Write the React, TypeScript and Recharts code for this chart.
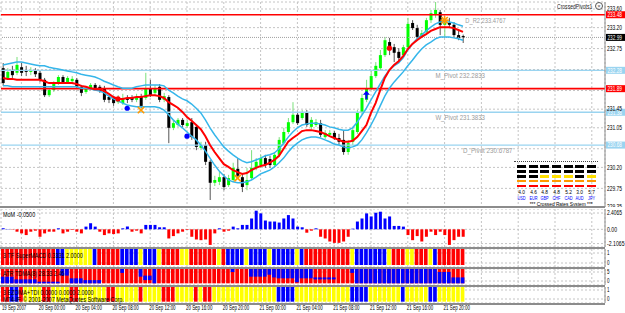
import React from "react";
import {
  ComposedChart, Bar, Line, Scatter, XAxis, YAxis, CartesianGrid, ReferenceLine, ReferenceDot, Cell,
} from "recharts";

const FONT = "'Liberation Sans',Arial,sans-serif";

// M30 candles, 19 Sep 20:00 .. 21 Sep 22:00
const OPEN = [
  232.33, 232.12, 232.29, 232.23, 232.35, 232.29, 232.25, 232.27, 232.23, 232.08,
  231.75, 231.86, 232.01, 232.14, 232.03, 232.05, 232.08, 231.93, 231.82, 231.90,
  231.97, 231.93, 231.90, 231.71, 231.69, 231.60, 231.58, 231.69, 231.69, 231.65,
  231.71, 231.69, 231.90, 231.80, 231.93, 231.65, 231.71, 231.05, 231.11, 231.22,
  231.09, 231.17, 231.07, 230.62, 230.68, 230.32, 229.87, 229.89, 229.99, 229.82,
  229.93, 230.17, 229.99, 229.82, 229.97, 230.19, 230.25, 230.40, 230.38, 230.25,
  230.47, 230.72, 230.96, 231.17, 231.33, 231.26, 231.37, 231.07, 231.11, 231.15,
  230.85, 230.90, 230.94, 230.83, 230.79, 230.53, 230.75, 230.96, 231.37, 231.65,
  231.90, 232.16, 232.33, 232.61, 232.89, 232.78, 232.68, 232.61, 232.78, 233.30,
  233.19, 233.00, 233.11, 233.36, 233.47, 233.53, 233.26, 233.30, 233.26, 233.04,
  233.02,
];
const HIGH = [
  232.44, 232.33, 232.38, 232.57, 232.44, 232.38, 232.35, 232.33, 232.29, 232.12,
  231.90, 232.05, 232.18, 232.18, 232.16, 232.16, 232.12, 231.97, 231.95, 232.01,
  232.01, 231.97, 231.95, 231.75, 231.73, 231.75, 231.78, 231.75, 231.75, 231.78,
  231.78, 232.23, 232.08, 231.97, 231.99, 231.80, 231.75, 231.22, 231.26, 231.26,
  231.22, 231.26, 231.13, 230.75, 230.75, 230.36, 230.02, 230.10, 230.06, 230.04,
  230.30, 230.40, 230.06, 230.19, 230.57, 230.40, 230.47, 230.47, 230.45, 230.53,
  230.85, 231.05, 231.26, 231.60, 231.39, 231.43, 231.43, 231.28, 231.24, 231.22,
  231.00, 231.00, 230.98, 230.92, 231.00, 230.79, 231.07, 231.43, 231.78, 232.08,
  232.29, 232.46, 232.72, 233.00, 232.98, 232.85, 232.76, 232.83, 233.41, 233.36,
  233.26, 233.15, 233.41, 233.58, 233.75, 233.58, 233.36, 233.41, 233.32, 233.15,
  233.05,
];
const LOW = [
  231.95, 232.08, 232.12, 232.18, 232.16, 232.16, 232.18, 232.14, 232.03, 231.71,
  231.71, 231.82, 231.97, 231.99, 231.99, 232.01, 231.88, 231.73, 231.78, 231.86,
  231.86, 231.80, 231.60, 231.58, 231.52, 231.56, 231.54, 231.58, 231.60, 231.60,
  231.47, 231.65, 231.71, 231.75, 231.60, 231.60, 230.72, 231.00, 231.07, 231.05,
  231.05, 230.79, 230.57, 230.57, 230.25, 229.50, 229.80, 229.82, 229.71, 229.78,
  229.89, 229.97, 229.67, 229.71, 229.93, 230.14, 230.19, 230.19, 230.19, 230.21,
  230.42, 230.68, 230.92, 231.13, 231.11, 231.22, 231.07, 231.02, 231.07, 230.85,
  230.81, 230.85, 230.79, 230.68, 230.47, 230.47, 230.68, 230.92, 231.33, 231.60,
  231.86, 232.12, 232.29, 232.57, 232.61, 232.46, 232.44, 232.55, 232.72, 233.15,
  232.93, 232.98, 233.04, 233.30, 233.41, 233.04, 233.00, 233.19, 232.98, 232.93,
  232.87,
];
const CLOSE = [
  232.01, 232.25, 232.18, 232.40, 232.23, 232.25, 232.29, 232.20, 232.08, 231.75,
  231.86, 232.01, 232.14, 232.03, 232.12, 232.10, 231.93, 231.80, 231.90, 231.97,
  231.90, 231.84, 231.65, 231.65, 231.58, 231.67, 231.69, 231.65, 231.65, 231.71,
  231.52, 231.90, 231.75, 231.90, 231.65, 231.73, 231.05, 231.15, 231.22, 231.11,
  231.15, 230.85, 230.64, 230.68, 230.32, 229.87, 229.93, 229.99, 229.78, 229.97,
  230.19, 230.02, 229.78, 229.93, 230.19, 230.32, 230.40, 230.25, 230.25, 230.47,
  230.79, 230.96, 231.17, 231.33, 231.15, 231.37, 231.11, 231.22, 231.17, 230.90,
  230.94, 230.94, 230.83, 230.75, 230.53, 230.72, 231.00, 231.37, 231.69, 231.90,
  232.16, 232.38, 232.61, 232.93, 232.72, 232.66, 232.55, 232.78, 233.28, 233.19,
  233.00, 233.08, 233.36, 233.51, 233.58, 233.26, 233.30, 233.26, 233.04, 232.98,
  232.99,
];

const MA_RED = [
  232.12, 232.10, 232.10, 232.08, 232.08, 232.08, 232.08, 232.08, 232.08, 232.05,
  232.01, 232.01, 232.01, 232.01, 232.01, 232.01, 231.99, 231.95, 231.93, 231.90,
  231.88, 231.88, 231.84, 231.78, 231.71, 231.67, 231.67, 231.69, 231.69, 231.71,
  231.71, 231.73, 231.75, 231.75, 231.73, 231.69, 231.60, 231.54, 231.48, 231.39,
  231.28, 231.20, 231.11, 231.02, 230.87, 230.68, 230.53, 230.40, 230.27, 230.21,
  230.14, 230.10, 230.06, 230.08, 230.14, 230.19, 230.23, 230.25, 230.30, 230.36,
  230.45, 230.60, 230.75, 230.83, 230.90, 230.98, 231.00, 231.00, 230.98, 230.96,
  230.92, 230.87, 230.83, 230.79, 230.75, 230.75, 230.77, 230.85, 230.98, 231.11,
  231.37, 231.58, 231.86, 232.12, 232.29, 232.40, 232.48, 232.59, 232.74, 232.85,
  232.93, 233.00, 233.06, 233.13, 233.17, 233.21, 233.21, 233.21, 233.19, 233.15,
  233.11,
];
const BAND_UP = [
  232.40, 232.42, 232.44, 232.46, 232.46, 232.44, 232.42, 232.40, 232.38, 232.38,
  232.35, 232.33, 232.31, 232.29, 232.27, 232.25, 232.23, 232.20, 232.18, 232.16,
  232.14, 232.10, 232.05, 232.01, 231.97, 231.93, 231.90, 231.90, 231.90, 231.93,
  231.95, 231.97, 231.97, 231.97, 231.97, 231.95, 231.86, 231.80, 231.73, 231.67,
  231.63, 231.56, 231.47, 231.37, 231.22, 231.05, 230.90, 230.77, 230.64, 230.55,
  230.47, 230.40, 230.34, 230.30, 230.32, 230.36, 230.40, 230.45, 230.47, 230.51,
  230.60, 230.72, 230.85, 230.96, 231.05, 231.11, 231.13, 231.15, 231.15, 231.13,
  231.11, 231.07, 231.05, 231.02, 231.00, 231.00, 231.05, 231.17, 231.32, 231.47,
  231.65, 231.82, 231.99, 232.16, 232.29, 232.38, 232.44, 232.55, 232.72, 232.85,
  232.96, 233.04, 233.13, 233.21, 233.28, 233.32, 233.32, 233.32, 233.30, 233.26,
  233.23,
];
const BAND_DN = [
  231.95, 231.95, 231.93, 231.93, 231.93, 231.93, 231.93, 231.93, 231.93, 231.93,
  231.93, 231.93, 231.93, 231.93, 231.93, 231.93, 231.93, 231.90, 231.90, 231.88,
  231.86, 231.84, 231.80, 231.73, 231.67, 231.63, 231.58, 231.54, 231.52, 231.50,
  231.50, 231.50, 231.50, 231.50, 231.48, 231.43, 231.33, 231.22, 231.13, 231.05,
  230.96, 230.87, 230.79, 230.68, 230.55, 230.40, 230.25, 230.12, 230.02, 229.93,
  229.89, 229.87, 229.87, 229.89, 229.93, 229.99, 230.06, 230.10, 230.14, 230.21,
  230.30, 230.40, 230.53, 230.64, 230.72, 230.79, 230.83, 230.85, 230.85, 230.83,
  230.79, 230.75, 230.70, 230.68, 230.64, 230.62, 230.64, 230.68, 230.79, 230.94,
  231.11, 231.30, 231.52, 231.73, 231.90, 232.03, 232.14, 232.25, 232.38, 232.50,
  232.63, 232.74, 232.83, 232.89, 232.96, 233.00, 233.00, 233.00, 232.98, 232.96,
  232.93,
];

const MOM = [
  0.15, 0.05, -0.05, -0.35, -0.6, -0.85, -0.35, -0.2, -1.1, -0.6,
  -0.35, -0.35, 0.15, -0.6, -0.35, -0.1, -0.35, -0.6, 0.4, 0.9,
  0.4, -0.35, -0.85, -0.6, -0.7, -0.6, 0.15, 0.4, -0.35, -0.2,
  -0.6, 0.65, 0.65, 0.65, 0.3, 0.3, -1.35, -1.0, -0.6, -0.35,
  -0.1, -1.1, -1.5, -1.6, -1.5, -2.3, -0.6, 0.15, -0.35, -0.2,
  0.4, 0.15, 0.65, 0.65, 1.6, 2.75, 2.35, 1.3, 1.15, 1.15,
  1.0, 1.6, 2.1, 1.6, 0.4, 0.3, -0.5, -0.2, 0.15, -1.1,
  -1.35, -1.8, -2.0, -2.0, -1.8, -1.1, 0.1, 1.15, 1.6, 2.35,
  1.9, 2.45, 2.6, 1.6, 1.9, 0.5, 0.5, 0.4, -0.85, -1.6,
  -1.0, -1.8, -1.1, -0.35, -0.85, -0.35, -0.85, -2.3, -1.6, -1.1,
  -1.1,
];

// R = red, Y = yellow, B = blue
const MACD_STATE = [
  "RRRRRRRRRRRR", "BB", "YYYYYY", "B", "RRRRR", "BBBB", "Y", "BBB", "Y", "RRRR", "YY",
  "RRRRRR", "Y", "R", "BBBB", "Y", "BBBB", "Y", "BBBBB", "Y", "B", "RRRRRRRRRR", "Y",
  "BBBBBBB", "Y", "RRR", "YY", "RRR", "Y", "B", "RRRRRR",
].join("");
const EZOMA_STATE = [
  "RR", "BB", "R", "YYYY", "RR", "YYYY", "RR", "YYYYYY", "RR", "YYYYY", "R", "YYYY",
  "RRR", "YYYY", "R", "Y", "RR", "YYYYYYYYYYYYYY", "BBBB", "YYYYYYYYYYYY", "BBBB",
  "YYYYYYY", "B", "YYYYY", "BB", "YYYYYY",
].join("");

// blue part of the ATR column [from, to]; the rest of the column is red
const ATR_BLUE: ([number, number] | null)[] = [
  [-1.3, 2.4], [-1.3, 2.4], [-1.3, 2.4], [-1.3, 0.9], [-1.3, 0.9], [-1.3, 0.9], [-1.3, 0.9], [-1.3, 0.9],
  [-1.3, -0.4], [-1.3, -0.4], [-1.3, -0.4], [-1.3, -0.4], [-1.3, -0.4], [3, 6.67], [3, 6.67],
  [-1.3, 1.5], [-1.3, 1.5], [-1.3, 1.5], [-1.3, 0.5], [-1.3, 0.5], [-1.3, 0.5], [-1.3, 0.5],
  null, null, null, null, [4.5, 6.67], null, null, null, [2.4, 6.67], [0.5, 3], [0.5, 3], [-1.3, 6.67],
  null, null, null, null, null, null, null, null, null, null, null, null, null, null, null, null,
  [5, 6.67], null, null, null, [2.4, 6.67], [2.4, 6.67], [2.4, 6.67], [2.4, 6.67], [3.5, 6.67], [2, 6.67],
  [1.5, 6.67], [1.5, 6.67], [1.5, 6.67], [1.5, 6.67], [-0.7, 6.67], [1.5, 6.67], [1.5, 6.67], [1.5, 6.67],
  [0.9, 2], [0.9, 2], [0.9, 2], [0.9, 2], [0.9, 2], null, null, null, [4.5, 6.67],
  [-1.3, 6.67], [-1.3, 6.67], [-1.3, 6.67], [-1.3, 6.67], [-1.3, 6.67], [-1.3, 6.67], [-1.3, 6.67],
  [-1.3, 6.67], [-1.3, 6.67], [-1.3, 6.67], [-1.3, 6.67], [-1.3, 6.67], [-1.3, 6.67], [-1.3, 6.67],
  [-1.3, 6.67], [-1.3, 6.67], [-1.3, 6.67], [-1.3, 6.67],
  [-1.3, 5], [-1.3, 5], [-1.3, 5], [-1.3, 2], [-1.3, 2], [-1.3, 2],
];

const SIGNALS = [
  { i: 25, price: 231.67, kind: "redDot" },
  { i: 27, price: 231.47, kind: "blueDot" },
  { i: 30, price: 231.43, kind: "cross" },
  { i: 40, price: 230.87, kind: "blueDot" },
  { i: 51, price: 229.97, kind: "cross" },
  { i: 79, price: 231.75, kind: "arrow" },
  { i: 84, price: 232.76, kind: "redDot" },
  { i: 96, price: 233.36, kind: "star" },
];

const PIVOTS = [
  { name: "D_R2", value: 233.4767, at: 100.5, color: "#ff0000", label: true },
  { name: "M_Pivot", value: 232.2833, at: 94, color: "#9ad4f0", label: true },
  { name: "", value: 231.89, at: 0, color: "#ff0000", label: false },
  { name: "W_Pivot", value: 231.3833, at: 94, color: "#9ad4f0", label: true },
  { name: "D_Pivot", value: 230.6787, at: 100, color: "#9ad4f0", label: true },
];
const BID = 232.99;

const PRICE_TICKS = [229.35, 229.75, 230.2, 230.6, 231.05, 231.45, 231.85, 232.3, 232.75, 233.2, 233.6];
// scale labels that sit under a price tag in the screenshot
const COVERED_TICKS = [230.6, 231.85, 232.3];
const MOM_TICKS = [-2.1065, 0, 2.4065];
const TIME_IDX = [0, 8, 16, 24, 32, 40, 48, 56, 64, 72, 80, 88, 96];
const TIME_LABELS = [
  "19 Sep 2007", "20 Sep 00:00", "20 Sep 04:00", "20 Sep 08:00", "20 Sep 12:00", "20 Sep 16:00",
  "20 Sep 20:00", "21 Sep 00:00", "21 Sep 04:00", "21 Sep 08:00", "21 Sep 12:00", "21 Sep 16:00", "21 Sep 20:00",
];
const GRID_IDX = Array.from({ length: 33 }, (_, k) => k * 4);

const CURRENCIES = ["USD", "EUR", "GBP", "CHF", "CAD", "AUD", "JPY"];
const STRENGTH = ["4.0", "4.6", "4.8", "4.8", "5.2", "3.0", "5.7"];
const LIT = [2, 2, 3, 3, 3, 2, 3];

const ROWS = OPEN.map((o, i) => ({
  i, open: o, high: HIGH[i], low: LOW[i], close: CLOSE[i],
  ma: MA_RED[i], up: BAND_UP[i], dn: BAND_DN[i], mom: MOM[i],
  macd: MACD_STATE[i], ezoma: EZOMA_STATE[i], atr: ATR_BLUE[i],
}));

const X_DOMAIN: [number, number] = [-0.435, 130.87];
const STATE_COLOR: Record<string, string> = { R: "#ff0000", Y: "#ffff00", B: "#0000ff" };
const GRID = "#c4c4c4";
const W = 625;
const MARGIN = { top: 0, right: 0, bottom: 0, left: 1 };

const MACD_SPAN = [-0.2, 1.4];
const ATR_SPAN = [-1.3, 6.67];
const EZOMA_SPAN = [-0.3, 1.333];

// narrow text, like the squeezed MetaTrader screenshot
function NText({ x, y, s, size = 6.5, per = 2.5, fill = "#000", anchor }: any) {
  const str = String(s);
  return (
    <text x={x} y={y} fontSize={size} fill={fill} fontFamily={FONT} textAnchor={anchor}
      textLength={str.length * per} lengthAdjust="spacingAndGlyphs">{str}</text>
  );
}

function AxisTick(props: any) {
  const { x, y, payload, fmt, skip } = props;
  if (skip && skip.includes(payload.value)) return null;
  return <NText x={x} y={y + 2.2} s={fmt ? fmt(payload.value) : payload.value} />;
}

function TimeTick(props: any) {
  const { x, y, payload } = props;
  const k = TIME_IDX.indexOf(payload.value);
  return <NText x={x - 1} y={y + 6.5} s={TIME_LABELS[k]} size={6.5} per={2.2} />;
}

function Candle(props: any) {
  const { x, y, width, height, payload } = props;
  const top = Math.min(y, y + height);
  const h = Math.abs(height);
  const k = h / (payload.high - payload.low || 1);
  const yo = top + (payload.high - payload.open) * k;
  const yc = top + (payload.high - payload.close) * k;
  const up = payload.close >= payload.open;
  const cx = x + width / 2;
  return (
    <g>
      <line x1={cx} x2={cx} y1={top} y2={top + h} stroke={up ? "#7be07b" : "#555"} strokeWidth={1} />
      <rect x={x} y={Math.min(yo, yc)} width={width} height={Math.max(1, Math.abs(yc - yo))}
        fill={up ? "#00ff00" : "#000"} />
    </g>
  );
}

function AtrColumn(props: any) {
  const { x, y, width, height, payload } = props;
  const top = Math.min(y, y + height);
  const h = Math.abs(height);
  const k = h / (ATR_SPAN[1] - ATR_SPAN[0]);
  const b = payload.atr;
  return (
    <g>
      <rect x={x} y={top} width={width} height={h} fill="#ff0000" />
      {b && (
        <rect x={x} y={top + (ATR_SPAN[1] - b[1]) * k} width={width} height={(b[1] - b[0]) * k} fill="#0000ff" />
      )}
    </g>
  );
}

function SignalMark(props: any) {
  const { cx, cy, payload } = props;
  if (cx == null || cy == null) return null;
  if (payload.kind === "redDot") return <circle cx={cx} cy={cy} r={2.6} fill="#ff0000" />;
  if (payload.kind === "blueDot") return <circle cx={cx} cy={cy} r={2.6} fill="#0000ff" />;
  if (payload.kind === "arrow")
    return (
      <path d={`M${cx},${cy - 4.5} L${cx + 3.5},${cy - 0.5} L${cx + 1},${cy - 0.5} L${cx + 1},${cy + 4} L${cx - 1},${cy + 4} L${cx - 1},${cy - 0.5} L${cx - 3.5},${cy - 0.5} Z`}
        fill="#0000ff" />
    );
  const s = 3.2;
  return (
    <g stroke="#ff9900" strokeWidth={1.6}>
      <line x1={cx - s} y1={cy - s} x2={cx + s} y2={cy + s} />
      <line x1={cx - s} y1={cy + s} x2={cx + s} y2={cy - s} />
      {payload.kind === "star" && <line x1={cx - s - 1} y1={cy} x2={cx + s + 1} y2={cy} />}
      {payload.kind === "star" && <line x1={cx} y1={cy - s - 1} x2={cx} y2={cy + s + 1} />}
    </g>
  );
}

function PriceTag({ viewBox, price, fill }: any) {
  if (!viewBox) return null;
  const x = viewBox.x + viewBox.width + 1;
  const y = viewBox.y;
  return (
    <g>
      <rect x={x} y={y - 3.5} width={19} height={7} fill={fill} />
      <NText x={x + 1.5} y={y + 2.3} s={price.toFixed(2)} fill="#fff" per={2.4} />
    </g>
  );
}

function PivotText({ viewBox, text }: any) {
  if (!viewBox) return null;
  return <NText x={viewBox.x} y={viewBox.y + 8} s={text} size={8} per={3.1} fill="#9a9a9a" />;
}

function SidePanel({ top, height, domain, ticks, fmt, children, withTime }: any) {
  return (
    <div style={{ position: "absolute", left: 0, top }}>
      <ComposedChart width={W} height={height + (withTime ? 10 : 0)} data={ROWS} margin={MARGIN}>
        <CartesianGrid stroke={GRID} strokeDasharray="2 2" />
        {withTime ? (
          <XAxis dataKey="i" type="number" domain={X_DOMAIN} ticks={TIME_IDX} height={10} allowDataOverflow
            axisLine={false} tickLine={false} tickSize={0} tickMargin={0} tick={<TimeTick />} interval={0} />
        ) : (
          <XAxis dataKey="i" type="number" domain={X_DOMAIN} ticks={GRID_IDX} hide allowDataOverflow />
        )}
        <YAxis orientation="right" width={20} domain={domain} ticks={ticks} allowDataOverflow interval={0}
          tickLine={false} tickSize={0} tickMargin={2} axisLine={{ stroke: "#8c8c8c" }}
          tick={<AxisTick fmt={fmt} />} />
        {children}
      </ComposedChart>
    </div>
  );
}

function Sep({ top }: { top: number }) {
  return <div style={{ position: "absolute", left: 0, top, width: 605, height: 2, background: "#8c8c8c" }} />;
}

const squeeze = (k: number, origin = "left center") => ({ transform: `scaleX(${k})`, transformOrigin: origin });

function PanelLabel({ top, text }: { top: number; text: string }) {
  return (
    <div style={{ position: "absolute", left: 3, top, fontSize: 7, lineHeight: "7px", color: "#000",
      whiteSpace: "nowrap", ...squeeze(0.78) }}>
      {text}
    </div>
  );
}

function RatesMeter() {
  return (
    <div style={{ position: "absolute", left: 514, top: 161, width: 84, height: 46, borderTop: "1px dotted #444" }}>
      {CURRENCIES.map((c, k) => (
        <div key={c} style={{ position: "absolute", left: 3 + k * 11.66, top: 3, width: 9 }}>
          {[0, 1, 2, 3, 4].map((r) => {
            const lit = 4 - r < LIT[k];
            const col = !lit ? "#000" : r === 4 ? "#ff0000" : r === 3 ? "#ff9900" : "#ffe000";
            return <div key={r} style={{ height: 2.8, marginBottom: 2.1, background: col }} />;
          })}
          <div style={{ fontSize: 6, lineHeight: "6px", textAlign: "center", color: "#000", whiteSpace: "nowrap",
            ...squeeze(0.8, "center") }}>{STRENGTH[k]}</div>
          <div style={{ fontSize: 5.5, lineHeight: "6px", textAlign: "center", color: "#0000ff", whiteSpace: "nowrap",
            marginLeft: -2, marginRight: -2, ...squeeze(0.7, "center") }}>{c}</div>
        </div>
      ))}
      <div style={{ position: "absolute", right: 5, top: 39, fontSize: 6, lineHeight: "6px", color: "#000",
        whiteSpace: "nowrap", ...squeeze(0.8, "right center") }}>
        *** Crossed Rates System ***
      </div>
    </div>
  );
}

export default function App() {
  return (
    <div style={{ position: "fixed", left: 0, top: 0, width: W, height: 313, background: "#fff", overflow: "hidden", fontFamily: FONT }}>
      {/* price panel */}
      <div style={{ position: "absolute", left: 0, top: 0 }}>
        <ComposedChart width={W} height={207} data={ROWS} margin={{ ...MARGIN, top: 2 }}>
          <CartesianGrid stroke={GRID} strokeDasharray="2 2" />
          <XAxis dataKey="i" type="number" domain={X_DOMAIN} ticks={GRID_IDX} hide allowDataOverflow />
          <YAxis orientation="right" width={20} domain={[229.35, 233.75]} ticks={PRICE_TICKS} allowDataOverflow interval={0}
            tickLine={false} tickSize={0} tickMargin={2} axisLine={{ stroke: "#8c8c8c" }}
            tick={<AxisTick fmt={(v: number) => v.toFixed(2)} skip={COVERED_TICKS} />} />
          <ReferenceLine y={BID} stroke="#a0a0a0" strokeDasharray="1 1"
            label={{ content: (p: any) => <PriceTag viewBox={p.viewBox} price={BID} fill="#000" /> }} />
          {PIVOTS.map((pv) => (
            <ReferenceLine key={pv.value} y={pv.value} stroke={pv.color} strokeWidth={pv.color === "#ff0000" ? 1.6 : 1.3}
              label={{ content: (p: any) => <PriceTag viewBox={p.viewBox} price={pv.value} fill={pv.color} /> }} />
          ))}
          {PIVOTS.filter((pv) => pv.label).map((pv) => (
            <ReferenceDot key={pv.name} x={pv.at} y={pv.value} r={0} fill="none" stroke="none"
              label={{ content: (p: any) => <PivotText viewBox={p.viewBox} text={`${pv.name} ${pv.value.toFixed(4)}`} /> }} />
          ))}
          <Bar dataKey={(d: any) => [d.low, d.high]} barSize={3} shape={<Candle />} isAnimationActive={false} />
          <Line dataKey="up" stroke="#35b6ea" strokeWidth={1.5} dot={false} activeDot={false} type="linear" isAnimationActive={false} />
          <Line dataKey="dn" stroke="#35b6ea" strokeWidth={1.5} dot={false} activeDot={false} type="linear" isAnimationActive={false} />
          <Line dataKey="ma" stroke="#ff0000" strokeWidth={2} dot={false} activeDot={false} type="linear" isAnimationActive={false} />
          <Scatter data={SIGNALS} dataKey="price" shape={<SignalMark />} isAnimationActive={false} />
        </ComposedChart>
      </div>
      <div style={{ position: "absolute", left: 557, top: 3, fontSize: 7, lineHeight: "7px", color: "#222",
        whiteSpace: "nowrap", ...squeeze(0.72) }}>CrossedPivots1</div>
      <div style={{ position: "absolute", left: 595, top: 2, width: 6, height: 6, borderRadius: 4, border: "1px solid #555",
        fontSize: 6, lineHeight: "6px", textAlign: "center", color: "#555" }}>×</div>
      <RatesMeter />

      {/* MoM */}
      <SidePanel top={209} height={38} domain={[-2.61, 3.0]} ticks={MOM_TICKS}
        fmt={(v: number) => (v === 0 ? "0.00" : String(v))}>
        <Bar dataKey="mom" barSize={3} isAnimationActive={false}>
          {ROWS.map((r) => <Cell key={r.i} fill={r.mom >= 0 ? "#0000ff" : "#ff0000"} />)}
        </Bar>
      </SidePanel>

      {/* 3 TF SuperMACD */}
      <SidePanel top={249} height={18} domain={[-0.4, 1.4]} ticks={[0, 1]}>
        <Bar dataKey={() => MACD_SPAN} barSize={3.7} isAnimationActive={false}>
          {ROWS.map((r) => <Cell key={r.i} fill={STATE_COLOR[r.macd]} />)}
        </Bar>
      </SidePanel>

      {/* ATR */}
      <SidePanel top={269} height={16} domain={[-2.22, 6.67]} ticks={[0, 5]}>
        <Bar dataKey={() => ATR_SPAN} barSize={3.7} shape={<AtrColumn />} isAnimationActive={false} />
      </SidePanel>

      {/* 3 EZOMA+TDI */}
      <SidePanel top={287} height={16} domain={[-0.444, 1.333]} ticks={[0, 1]} withTime>
        <Bar dataKey={() => EZOMA_SPAN} barSize={3.7} isAnimationActive={false}>
          {ROWS.map((r) => <Cell key={r.i} fill={STATE_COLOR[r.ezoma]} />)}
        </Bar>
      </SidePanel>

      <Sep top={206} />
      <Sep top={247} />
      <Sep top={267} />
      <Sep top={285} />
      <Sep top={303} />

      <PanelLabel top={211} text="MoM -0.0500" />
      <PanelLabel top={252} text="3 TF SuperMACD 0.3331 2.0000" />
      <PanelLabel top={270} text="ATR TDMA(8) 28.33 2.46" />
      <PanelLabel top={288.5} text="3 EZOMA+TDI 0.0000 0.0000 2.0000" />
      <PanelLabel top={295.5} text="MT4-IF, © 2001-2007 MetaQuotes Software Corp." />
    </div>
  );
}
